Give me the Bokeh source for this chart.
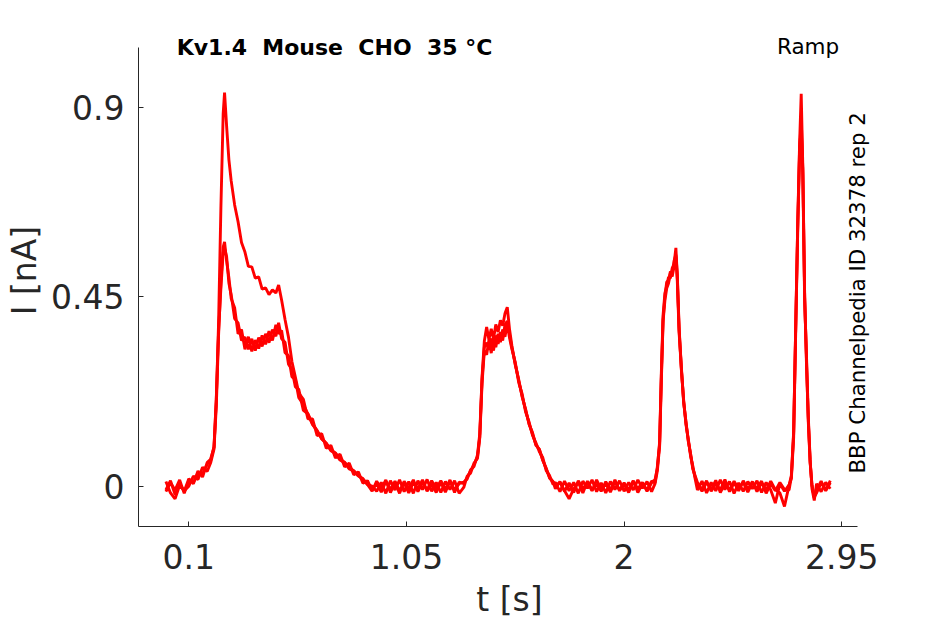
import math
from bokeh.plotting import figure
from bokeh.models import Range1d, FixedTicker, Label
from bokeh.embed import file_html
from bokeh.resources import INLINE

# ---- data ----
t = [0.00,0.02,0.04,0.06,0.08,0.10,0.12,0.14,0.16,0.18,
     0.195,0.21,0.22,0.23,0.24,0.25,0.256,0.265,0.275,0.285,
     0.30,0.315,0.33,0.345,0.36,0.375,0.39,0.405,0.42,0.435,
     0.45,0.465,0.48,0.492,0.505,0.52,0.535,0.55,0.565,0.58,
     0.60,0.62,0.64,0.66,0.68,0.70,0.72,0.74,0.76,0.78,
     0.80,0.82,0.84,0.86,0.88,0.90,0.92,0.94,0.96,0.98,
     1.00,1.02,1.04,1.06,1.08,1.10,1.12,1.14,1.16,1.18,
     1.20,1.22,1.24,1.26,1.28,1.30,1.315,1.33,1.345,1.36,
     1.37,1.38,1.39,1.40,1.41,1.42,1.43,1.44,1.45,1.46,
     1.47,1.48,1.49,1.50,1.51,1.525,1.54,1.555,1.57,1.585,
     1.60,1.615,1.63,1.645,1.66,1.675,1.69,1.70,1.72,1.74,
     1.76,1.78,1.80,1.82,1.84,1.86,1.88,1.90,1.92,1.94,
     1.96,1.98,2.00,2.02,2.04,2.06,2.08,2.10,2.12,2.135,
     2.145,2.155,2.162,2.17,2.178,2.186,2.194,2.202,2.21,2.218,
     2.226,2.232,2.24,2.25,2.26,2.27,2.28,2.29,2.30,2.31,
     2.32,2.34,2.36,2.38,2.40,2.42,2.44,2.46,2.48,2.50,
     2.52,2.54,2.56,2.58,2.60,2.62,2.64,2.66,2.68,2.70,
     2.72,2.73,2.74,2.75,2.758,2.766,2.773,2.78,2.788,2.796,
     2.804,2.812,2.82,2.83,2.84,2.86,2.88,2.90]

trace_a = [-0.009,0.013,-0.02,0.006,-0.012,0.018,0.006,0.036,0.022,0.056,
           0.064,0.092,0.205,0.39,0.66,0.885,0.935,0.855,0.775,0.725,
           0.668,0.628,0.579,0.556,0.522,0.521,0.494,0.497,0.468,0.471,
           0.455,0.466,0.459,0.478,0.442,0.396,0.354,0.296,0.259,0.221,
           0.206,0.16,0.16,0.12,0.125,0.09,0.097,0.067,0.076,0.046,
           0.055,0.027,0.034,0.007,0.013,-0.01,0.007,-0.014,0.011,-0.008,
           0.012,-0.011,0.008,-0.016,0.009,-0.006,0.015,-0.012,0.005,-0.015,
           0.009,-0.014,0.012,-0.009,0.006,0.01,0.017,0.039,0.047,0.074,
           0.125,0.26,0.345,0.378,0.348,0.374,0.35,0.384,0.366,0.394,
           0.381,0.41,0.425,0.372,0.334,0.288,0.253,0.212,0.183,0.147,
           0.128,0.097,0.088,0.061,0.043,0.019,0.011,-0.006,0.011,-0.012,
           0.008,-0.015,0.013,-0.006,0.009,-0.011,0.015,-0.008,0.006,-0.014,
           0.011,-0.009,0.005,-0.015,0.012,-0.006,0.009,-0.012,0.008,0.016,
           0.042,0.105,0.26,0.405,0.458,0.476,0.497,0.494,0.518,0.527,
           0.566,0.50,0.372,0.282,0.198,0.153,0.107,0.078,0.043,0.022,
           0.004,-0.012,0.009,-0.008,0.014,-0.015,0.006,-0.009,0.012,-0.006,
           0.009,-0.014,0.008,-0.005,0.012,-0.017,0.006,-0.011,0.009,-0.008,
           -0.009,0.022,0.125,0.41,0.63,0.815,0.932,0.76,0.46,0.29,
           0.158,0.058,0.002,-0.028,-0.009,0.012,-0.011,0.008]

trace_b = [0.011,-0.016,-0.03,0.002,-0.011,0.0,0.024,0.016,0.045,0.035,
           0.055,0.088,0.19,0.36,0.485,0.568,0.58,0.535,0.495,0.446,
           0.424,0.362,0.372,0.325,0.355,0.32,0.347,0.327,0.358,0.337,
           0.368,0.346,0.383,0.362,0.37,0.317,0.31,0.26,0.254,0.21,
           0.194,0.171,0.148,0.132,0.113,0.102,0.086,0.079,0.064,0.057,
           0.044,0.037,0.025,0.016,0.004,0.0,-0.012,0.009,-0.017,0.013,
           -0.009,0.015,-0.013,0.011,-0.017,0.013,-0.008,0.016,-0.012,0.009,
           -0.015,0.011,-0.008,0.013,-0.017,-0.003,0.024,0.031,0.055,0.066,
           0.115,0.245,0.322,0.312,0.347,0.316,0.353,0.33,0.362,0.342,
           0.372,0.355,0.385,0.352,0.326,0.294,0.246,0.219,0.176,0.153,
           0.121,0.103,0.082,0.068,0.037,0.025,0.004,0.009,-0.013,0.012,
           -0.011,0.009,-0.017,0.012,-0.005,0.015,-0.013,0.008,-0.016,0.011,
           -0.008,0.013,-0.012,0.009,-0.009,0.015,-0.005,0.011,-0.013,0.006,
           0.036,0.095,0.24,0.39,0.441,0.47,0.482,0.506,0.498,0.522,
           0.545,0.49,0.365,0.278,0.204,0.146,0.113,0.072,0.048,0.018,
           -0.009,0.012,-0.016,0.009,-0.011,0.015,-0.008,0.011,-0.017,0.008,
           -0.012,0.011,-0.006,0.013,-0.015,0.009,-0.009,-0.04,0.006,-0.012,
           0.003,0.018,0.115,0.395,0.61,0.79,0.88,0.74,0.44,0.31,
           0.165,0.063,-0.006,-0.034,0.006,-0.013,0.009,-0.006]

trace_c = [-0.013,0.008,-0.009,0.015,-0.017,0.013,0.009,0.03,0.029,0.052,
           0.06,0.094,0.21,0.37,0.47,0.555,0.565,0.545,0.482,0.455,
           0.398,0.388,0.346,0.354,0.325,0.35,0.322,0.353,0.332,0.362,
           0.341,0.372,0.356,0.388,0.35,0.342,0.29,0.278,0.236,0.23,
           0.18,0.172,0.146,0.132,0.112,0.102,0.084,0.078,0.062,0.056,
           0.041,0.036,0.024,0.018,0.004,-0.012,0.012,-0.006,0.015,-0.015,
           0.008,-0.017,0.012,-0.006,0.015,-0.013,0.009,-0.009,0.013,-0.005,
           0.013,-0.008,0.015,-0.015,0.01,0.006,0.021,0.036,0.052,0.07,
           0.118,0.255,0.33,0.341,0.324,0.351,0.322,0.358,0.338,0.366,
           0.346,0.384,0.392,0.36,0.33,0.29,0.251,0.214,0.181,0.149,
           0.124,0.099,0.087,0.062,0.041,0.02,0.01,0.002,0.009,-0.011,
           -0.03,-0.006,0.009,-0.016,0.012,-0.009,0.005,-0.012,0.011,-0.009,
           0.015,-0.011,0.008,-0.009,0.013,-0.015,0.006,-0.009,0.012,0.008,
           0.046,0.1,0.25,0.395,0.45,0.485,0.488,0.51,0.505,0.535,
           0.55,0.505,0.378,0.276,0.201,0.151,0.109,0.076,0.041,0.025,
           0.009,-0.008,0.013,-0.012,0.006,-0.009,0.016,-0.013,0.008,-0.011,
           0.013,-0.008,0.011,-0.013,0.008,-0.009,0.012,-0.008,-0.016,-0.048,
           0.002,0.025,0.13,0.405,0.625,0.805,0.85,0.755,0.45,0.3,
           0.152,0.055,0.003,-0.025,-0.016,0.008,-0.009,0.013]

x_ticks = [0.1, 1.05, 2.0, 2.95]
x_tick_labels = ["0.1", "1.05", "2", "2.95"]
y_ticks = [0.0, 0.45, 0.9]
y_tick_labels = ["0", "0.45", "0.9"]

title_text = "Kv1.4\u00a0 Mouse\u00a0 CHO\u00a0 35 °C"
protocol_text = "Ramp"
source_text = "BBP Channelpedia ID 32378 rep 2"
x_label = "t [s]"
y_label = "I [nA]"

# axes extents (data units) shown by the axis lines
X_AXIS = (-0.1196, 3.017)
Y_AXIS = (-0.0957, 1.0425)

# ---- figure ----
FONT = "DejaVu Sans"
INK = "#262626"

p = figure(width=940, height=624,
           x_range=Range1d(-0.1196, 3.1191), y_range=Range1d(-0.0957, 1.1202),
           output_backend="svg", toolbar_location=None,
           min_border_left=138, min_border_right=60,
           min_border_top=14, min_border_bottom=98)
p.outline_line_color = None
p.grid.visible = False
p.background_fill_color = "white"
p.border_fill_color = "white"

for tr in (trace_c, trace_b, trace_a):
    p.line(t, tr, line_color="#ff0000", line_width=2.9)

for ax in (p.xaxis[0], p.yaxis[0]):
    ax.axis_line_color = INK
    ax.axis_line_width = 1
    ax.major_tick_line_color = INK
    ax.major_tick_in = 5
    ax.major_tick_out = 0
    ax.minor_tick_in = 0
    ax.minor_tick_out = 0
    ax.major_label_text_font = FONT
    ax.major_label_text_font_size = "33px"
    ax.major_label_text_color = INK
    ax.axis_label_text_font = FONT
    ax.axis_label_text_font_size = "33px"
    ax.axis_label_text_font_style = "normal"
    ax.axis_label_text_color = INK

p.xaxis.bounds = X_AXIS
p.yaxis.bounds = Y_AXIS
p.xaxis.ticker = FixedTicker(ticks=x_ticks)
p.xaxis.major_label_overrides = {v: s for v, s in zip(x_ticks, x_tick_labels)}
p.yaxis.ticker = FixedTicker(ticks=y_ticks)
p.yaxis.major_label_overrides = {v: s for v, s in zip(y_ticks, y_tick_labels)}
p.xaxis.axis_label = x_label
p.yaxis.axis_label = y_label
p.xaxis.major_label_standoff = 17
p.xaxis.axis_label_standoff = 8
p.yaxis.major_label_standoff = 14
p.yaxis.axis_label_standoff = 4

p.add_layout(Label(x=0.736, y=1.0425, text=title_text, text_font=FONT,
                   text_font_style="bold", text_font_size="22px",
                   text_align="center", text_baseline="alphabetic",
                   text_color="black"))
p.add_layout(Label(x=2.803, y=1.0435, text=protocol_text, text_font=FONT,
                   text_font_size="21.5px", text_align="center",
                   text_baseline="alphabetic", text_color="black"))
p.add_layout(Label(x=3.017, y=0.030, text=source_text, text_font=FONT,
                   text_font_size="21.3px", angle=math.pi / 2,
                   text_align="left", text_baseline="alphabetic",
                   text_color="black"))

open("out.html", "w").write(file_html(p, INLINE))
